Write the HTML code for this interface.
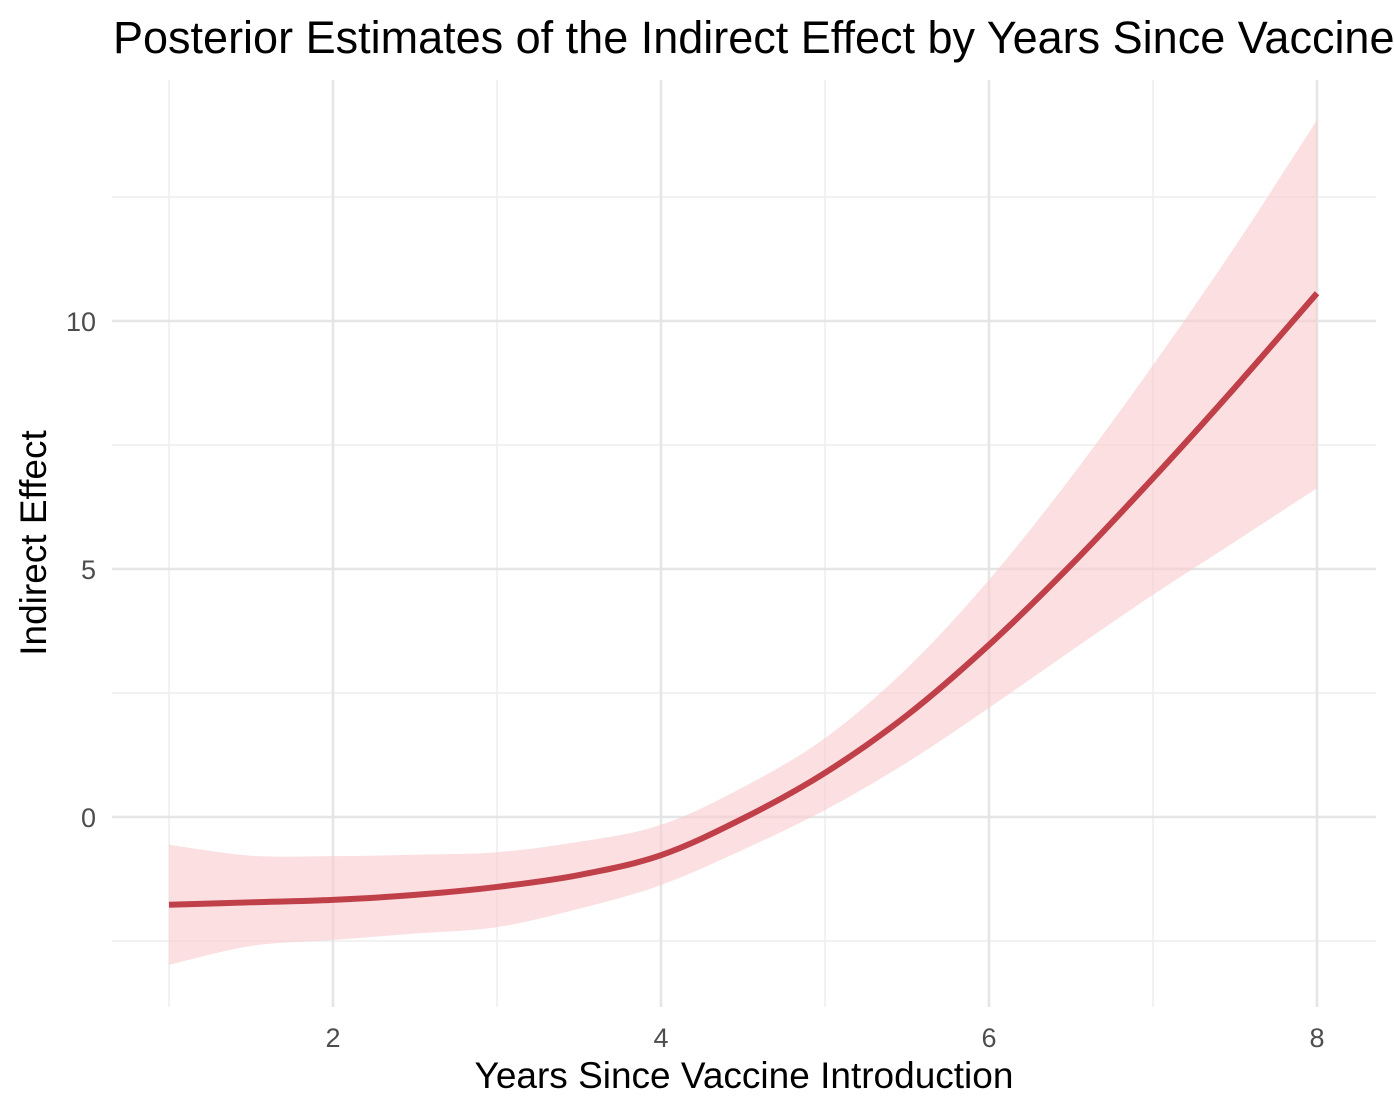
<!DOCTYPE html>
<html><head><meta charset="utf-8"><style>
body{margin:0;background:#fff;}
svg{display:block;font-family:"Liberation Sans",Arial,sans-serif;}
</style></head><body>
<svg id="chart" width="1394" height="1114" viewBox="0 0 1394 1114">
<text x="113" y="53" font-size="45" fill="#000">Posterior Estimates of the Indirect Effect by Years Since Vaccine</text>
<g id="grid"></g>
<g id="marks"></g>
<g id="ticks"></g>
<text x="744" y="1088" font-size="37" text-anchor="middle" fill="#000">Years Since Vaccine Introduction</text>
<text transform="translate(46,543) rotate(-90)" font-size="37" text-anchor="middle" fill="#000">Indirect Effect</text>
</svg>
<script>
const years = [1,1.5,2,2.5,3,3.5,4,4.5,5,5.5,6,6.5,7,7.5,8];
const meanEffect = [-1.77,-1.72,-1.67,-1.57,-1.41,-1.17,-0.77,-0.03,0.89,2.05,3.47,5.08,6.83,8.66,10.56];
const upperEffect = [-0.56,-0.78,-0.79,-0.76,-0.71,-0.5,-0.16,0.6,1.59,3.0,4.78,6.85,9.11,11.5,14.05];
const lowerEffect = [-2.98,-2.6,-2.48,-2.35,-2.22,-1.85,-1.37,-0.66,0.14,1.1,2.2,3.35,4.48,5.55,6.63];
const xMajorTicks = [2,4,6,8];
const xMinorTicks = [1,3,5,7];
const yMajorTicks = [0,5,10];
const yMinorTicks = [-2.5,2.5,7.5,12.5];

const X = v => 169 + (v-1)*164;
const Y = v => 817 - v*49.6;
const L = 112, R = 1376, T = 80, B = 1007;
const NS = "http://www.w3.org/2000/svg";
const grid = document.getElementById('grid'), marks = document.getElementById('marks'), ticks = document.getElementById('ticks');
function mk(tag, attrs, parent){const e=document.createElementNS(NS,tag);for(const k in attrs)e.setAttribute(k,attrs[k]);parent.appendChild(e);return e;}

xMinorTicks.forEach(v=>{const e=mk('line',{x1:X(v),x2:X(v),y1:T,y2:B,stroke:'#ebebeb','stroke-width':1.3},grid);

});
yMinorTicks.forEach(v=>{const e=mk('line',{x1:L,x2:R,y1:Y(v),y2:Y(v),stroke:'#ebebeb','stroke-width':1.3},grid);

});
xMajorTicks.forEach(v=>{const e=mk('line',{x1:X(v),x2:X(v),y1:T,y2:B,stroke:'#e5e5e5','stroke-width':2.6},grid);


const t=mk('text',{x:X(v),y:1047,'font-size':27,'text-anchor':'middle',fill:'#4d4d4d'},ticks);t.textContent=v;

});
yMajorTicks.forEach(v=>{const e=mk('line',{x1:L,x2:R,y1:Y(v),y2:Y(v),stroke:'#e5e5e5','stroke-width':2.6},grid);


const t=mk('text',{x:96,y:Y(v)+10,'font-size':27,'text-anchor':'end',fill:'#4d4d4d'},ticks);t.textContent=v;

});

function smooth(pts){let d='';for(let i=0;i<pts.length-1;i++){const p0=pts[Math.max(0,i-1)],p1=pts[i],p2=pts[i+1],p3=pts[Math.min(pts.length-1,i+2)];
const c1=[p1[0]+(p2[0]-p0[0])/6,p1[1]+(p2[1]-p0[1])/6],c2=[p2[0]-(p3[0]-p1[0])/6,p2[1]-(p3[1]-p1[1])/6];
d+=` C${c1[0]},${c1[1]} ${c2[0]},${c2[1]} ${p2[0]},${p2[1]}`;}return d;}
const up=years.map((x,i)=>[X(x),Y(upperEffect[i])]);
const lo=years.map((x,i)=>[X(x),Y(lowerEffect[i])]).reverse();
const band=mk('path',{d:`M${up[0][0]},${up[0][1]}`+smooth(up)+` L${lo[0][0]},${lo[0][1]}`+smooth(lo)+'Z',fill:'#f8c9cd','fill-opacity':0.6},marks);


const mp=years.map((x,i)=>[X(x),Y(meanEffect[i])]);
const line=mk('path',{d:`M${mp[0][0]},${mp[0][1]}`+smooth(mp),fill:'none',stroke:'#c0404a','stroke-width':6},marks);


</script>
</body></html>
